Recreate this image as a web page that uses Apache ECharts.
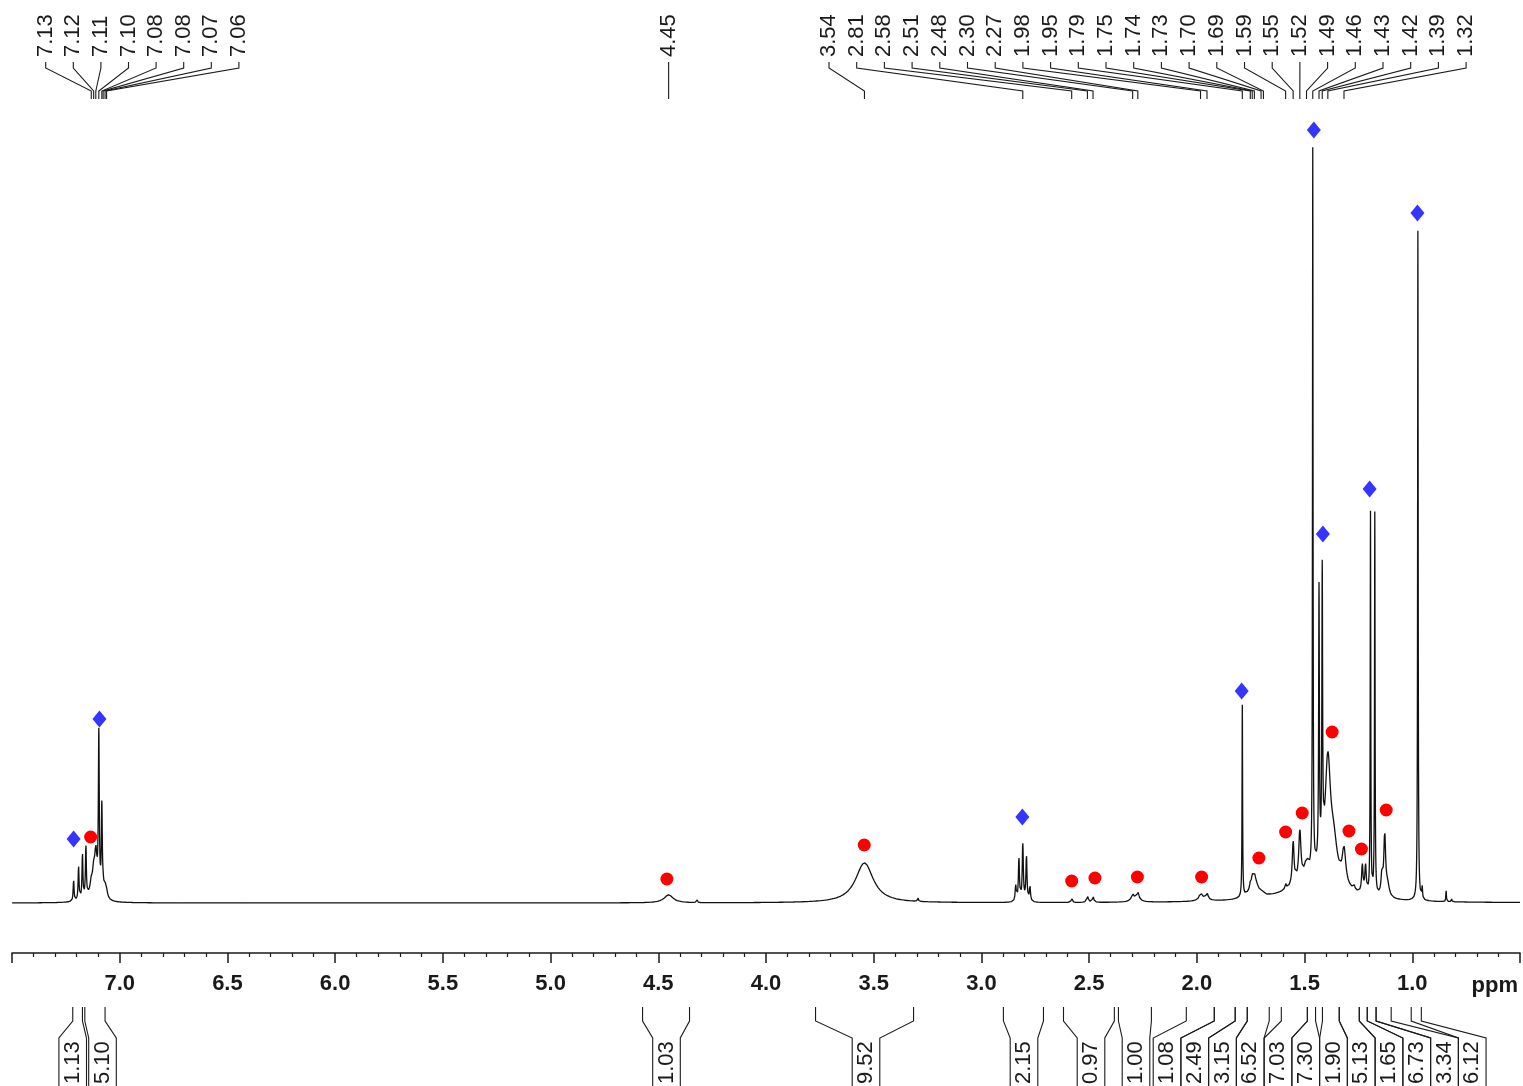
<!DOCTYPE html>
<html>
<head>
<meta charset="utf-8">
<title>1H NMR spectrum</title>
<script src="https://cdn.jsdelivr.net/npm/echarts@6/dist/echarts.min.js"></script>
<style>
  html, body { margin: 0; padding: 0; background: #fff; }
  #chart { width: 1523px; height: 1086px; }
</style>
</head>
<body>
<div id="chart"></div>
<script>
// ---------- peak table (labelled peaks) ----------
// chemical shift (ppm), line height (a.u.), line width FWHM (ppm)
const pickedPpm = [7.132, 7.121, 7.111, 7.097, 7.083, 7.077, 7.068, 7.061,
  4.452, 3.543, 2.808, 2.581, 2.508, 2.482, 2.298, 2.274, 1.983, 1.953,
  1.789, 1.752, 1.743, 1.733, 1.702, 1.691, 1.588, 1.553, 1.522, 1.491,
  1.462, 1.433, 1.418, 1.392, 1.317];
const pickedHeight = [10, 18, 38, 158, 87, 8, 10, 6,
  8, 40, 58, 5, 7, 6, 6, 8, 7, 6,
  192, 4, 5, 4, 3, 2, 6, 43, 50, 15,
  720, 272, 280, 115, 35];
const pickedWidth = [0.012, 0.012, 0.012, 0.005, 0.005, 0.008, 0.012, 0.012,
  0.05, 0.1, 0.006, 0.006, 0.008, 0.008, 0.012, 0.012, 0.012, 0.012,
  0.003, 0.006, 0.006, 0.006, 0.006, 0.006, 0.006, 0.01, 0.012, 0.02,
  0.003, 0.004, 0.004, 0.03, 0.02];

// ---------- further lines without a shift label ----------
const otherPpm = [7.214, 7.191, 7.173, 7.157, 7.120, 4.321, 3.295,
  2.841, 2.826, 2.791, 2.775, 2.285, 1.970, 1.735, 1.450, 1.365,
  1.271, 1.232, 1.217, 1.194, 1.174, 1.141, 1.128, 1.115,
  0.974, 0.954, 0.843, 0.818];
const otherHeight = [21, 34, 45, 52, 10, 4, 5,
  16, 43, 45, 16, 3, 3, 22, 25, 35,
  6, 28, 28, 382, 382, 20, 60, 12,
  670, 12, 12, 4];
const otherWidth = [0.005, 0.005, 0.005, 0.005, 0.06, 0.004, 0.004,
  0.006, 0.006, 0.006, 0.006, 0.05, 0.05, 0.04, 0.25, 0.04,
  0.008, 0.008, 0.008, 0.003, 0.003, 0.01, 0.01, 0.02,
  0.003, 0.004, 0.003, 0.003];

// ---------- integrals: region start / end (ppm) and value ----------
const integralFrom = [7.218, 7.162, 4.573, 3.770, 2.898, 2.619, 2.364, 2.049, 1.919,
  1.822, 1.766, 1.608, 1.487, 1.417, 1.339, 1.246, 1.209, 1.168, 1.005];
const integralTo = [7.173, 7.068, 4.355, 3.315, 2.712, 2.383, 2.211, 1.919, 1.822,
  1.766, 1.664, 1.487, 1.449, 1.339, 1.246, 1.209, 1.168, 1.098, 0.958];
const integralValue = [1.13, 5.10, 1.03, 9.52, 2.15, 0.97, 1.00, 1.08, 2.49,
  3.15, 6.52, 7.03, 7.30, 1.90, 5.13, 1.65, 6.73, 3.34, 6.12];

// ---------- component markers: [ppm, intensity] ----------
const diamondMarks = [[7.214, 64], [7.094, 184], [2.810, 86], [1.792, 212],
  [1.457, 773], [1.415, 369], [1.198, 414], [0.976, 690]];
const circleMarks = [[7.135, 66], [4.460, 24], [3.544, 58], [2.581, 22], [2.473, 25],
  [2.276, 26], [1.978, 26], [1.712, 45], [1.588, 71], [1.511, 90], [1.372, 171],
  [1.294, 72], [1.236, 54], [1.121, 93]];

// ---------- axis tick labels ----------
const tickLabels = ['7.0', '6.5', '6.0', '5.5', '5.0', '4.5', '4.0', '3.5',
  '3.0', '2.5', '2.0', '1.5', '1.0'];

// ---------- layout ----------
const INK = '#1a1a1a';
const FONT = '"Liberation Sans", Arial, Helvetica, sans-serif';
// shift-label slots: groups of evenly spaced labels (px); null start = directly above the peak
const labelGroups = [
  { count: 8, start: 45.7, step: 27.6 },
  { count: 1, start: null, step: 0 },
  { count: 24, start: 829, step: 27.7 }
];
const slotX = [];
labelGroups.forEach(g => {
  for (let k = 0; k < g.count; k++) slotX.push(g.start == null ? null : g.start + k * g.step);
});
// integral label boxes: centre (px) of each box
const integralBoxCenter = [72.7, 102.5, 666.5, 866, 1024, 1091, 1136, 1167, 1194.75,
  1222.5, 1250.25, 1278, 1305.75, 1333.5, 1361.25, 1389, 1416.75, 1444.5, 1472.25];
const BOX_HALF = 13.8;

// ---------- spectrum trace: sum of Lorentzian lines from the peak table ----------
const lines = [];
pickedPpm.forEach((p, i) => lines.push([p, pickedHeight[i], pickedWidth[i]]));
otherPpm.forEach((p, i) => lines.push([p, otherHeight[i], otherWidth[i]]));

const spectrum = [];
const STEP = 0.0005;
for (let n = 0; n <= 14000; n++) {
  const x = 0.5 + n * STEP;
  let y = 0;
  for (const [c, h, w] of lines) {
    const r = (x - c) / (w / 2);
    y += h / (1 + r * r);
  }
  spectrum.push([x, y]);
}

// ---------- custom renderers ----------
function renderShiftLabel(params, api) {
  const i = params.dataIndex;
  const px = api.coord([api.value(0), 0])[0];
  const sx = slotX[i] == null ? px : slotX[i];
  return {
    type: 'group',
    children: [
      {
        type: 'polyline',
        shape: { points: [[sx, 62], [sx, 68], [px, 91], [px, 99]] },
        style: { stroke: INK, lineWidth: 1.1, fill: null }
      },
      {
        type: 'text',
        x: sx, y: 57, rotation: Math.PI / 2,
        style: {
          text: pickedPpm[i].toFixed(2),
          font: '22px ' + FONT,
          fill: INK, align: 'left', verticalAlign: 'middle'
        }
      }
    ]
  };
}

function renderIntegral(params, api) {
  const i = params.dataIndex;
  const x1 = api.coord([api.value(0), 0])[0];
  const x2 = api.coord([api.value(1), 0])[0];
  const c = integralBoxCenter[i];
  const l = c - BOX_HALF, r = c + BOX_HALF;
  const y0 = 1007, y1 = 1021, y2 = 1038, y3 = 1090;
  const st = { stroke: INK, lineWidth: 1.1, fill: null };
  return {
    type: 'group',
    children: [
      { type: 'polyline', shape: { points: [[x1, y0], [x1, y1], [l, y2], [l, y3]] }, style: st },
      { type: 'polyline', shape: { points: [[x2, y0], [x2, y1], [r, y2], [r, y3]] }, style: st },
      {
        type: 'text',
        x: c, y: 1084, rotation: Math.PI / 2,
        style: {
          text: integralValue[i].toFixed(2),
          font: '22px ' + FONT,
          fill: INK, align: 'left', verticalAlign: 'middle'
        }
      }
    ]
  };
}

// ---------- chart ----------
const chart = echarts.init(document.getElementById('chart'), null, { renderer: 'canvas' });
chart.setOption({
  animation: false,
  backgroundColor: '#ffffff',
  grid: { left: 12, right: 2, top: 100, bottom: 133, containLabel: false },
  xAxis: {
    type: 'value',
    inverse: true,
    min: 0.5,
    max: 7.5,
    interval: 0.5,
    axisLine: { show: true, onZero: false, lineStyle: { color: INK, width: 1.6 } },
    axisTick: { show: true, length: 10, lineStyle: { color: INK, width: 1.5 } },
    minorTick: { show: true, splitNumber: 5, length: 4, lineStyle: { color: INK, width: 1.2 } },
    splitLine: { show: false },
    minorSplitLine: { show: false },
    axisLabel: {
      color: INK, fontSize: 22, fontWeight: 'bold', fontFamily: FONT, margin: 20,
      formatter: v => { const s = v.toFixed(1); return tickLabels.includes(s) ? s : ''; }
    }
  },
  yAxis: { type: 'value', min: -50, max: 803, show: false },
  graphic: [
    {
      type: 'text', right: 5, top: 975,
      style: { text: 'ppm', font: 'bold 22px ' + FONT, fill: INK }
    }
  ],
  series: [
    {
      type: 'line',
      data: spectrum,
      showSymbol: false,
      symbol: 'none',
      sampling: 'none',
      silent: true,
      lineStyle: { color: '#111', width: 1.3 }
    },
    {
      type: 'scatter',
      data: diamondMarks,
      symbol: 'diamond',
      symbolSize: [14, 17],
      silent: true,
      itemStyle: { color: '#3535ff', opacity: 1 }
    },
    {
      type: 'scatter',
      data: circleMarks,
      symbol: 'circle',
      symbolSize: 13,
      silent: true,
      itemStyle: { color: '#ff0000', opacity: 1 }
    },
    {
      type: 'custom',
      data: pickedPpm.map(p => [p, 0]),
      encode: { x: 0, y: 1 },
      renderItem: renderShiftLabel,
      clip: false,
      silent: true
    },
    {
      type: 'custom',
      data: integralFrom.map((f, i) => [f, integralTo[i], 0]),
      encode: { x: [0, 1], y: 2 },
      renderItem: renderIntegral,
      clip: false,
      silent: true
    }
  ]
});
</script>
</body>
</html>
